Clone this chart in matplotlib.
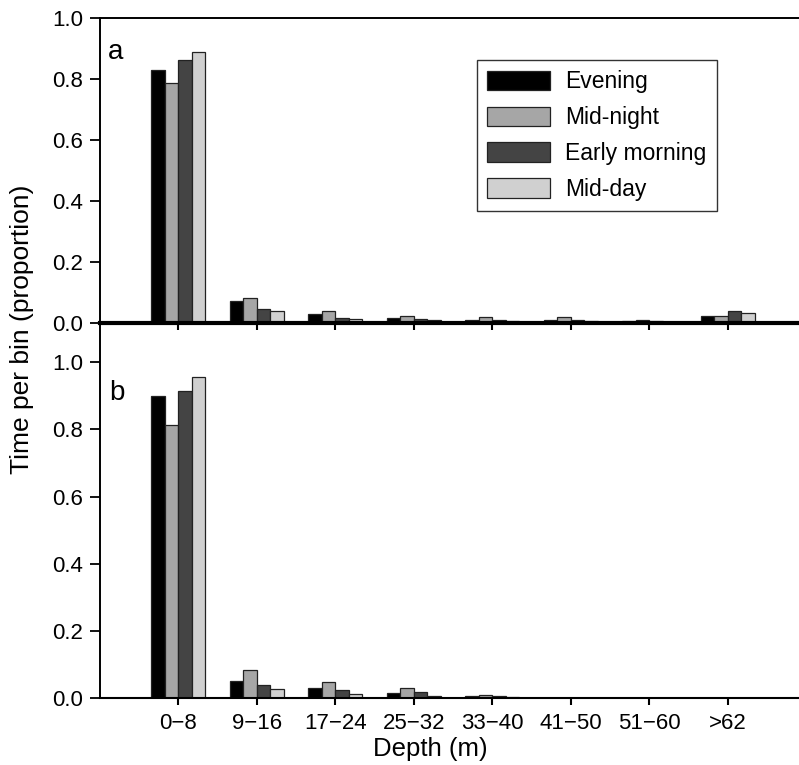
import numpy as np
import matplotlib.pyplot as plt

plt.rcParams['font.family'] = ['Liberation Sans', 'DejaVu Sans']

depth_bins = ['0\u22128', '9\u221216', '17\u221224', '25\u221232',
              '33\u221240', '41\u221250', '51\u221260', '>62']
periods = ['Evening', 'Mid-night', 'Early morning', 'Mid-day']
colors = ['#000000', '#a6a6a6', '#444444', '#d0d0d0']

# panel a, proportion of time per depth bin
a_evening = [0.829, 0.071, 0.028, 0.017, 0.010, 0.010, 0.008, 0.023]
a_midnight = [0.787, 0.082, 0.038, 0.024, 0.020, 0.019, 0.011, 0.023]
a_early = [0.863, 0.045, 0.017, 0.012, 0.010, 0.009, 0.007, 0.038]
a_midday = [0.890, 0.038, 0.014, 0.010, 0.005, 0.005, 0.003, 0.033]

# panel b
b_evening = [0.900, 0.052, 0.029, 0.015, 0.005, 0.0, 0.0, 0.0]
b_midnight = [0.812, 0.084, 0.049, 0.031, 0.008, 0.0, 0.0, 0.0]
b_early = [0.914, 0.038, 0.024, 0.017, 0.005, 0.0, 0.0, 0.0]
b_midday = [0.955, 0.028, 0.013, 0.005, 0.002, 0.0, 0.0, 0.0]

panel_a = [a_evening, a_midnight, a_early, a_midday]
panel_b = [b_evening, b_midnight, b_early, b_midday]

x = np.arange(len(depth_bins))
w = 0.172

fig = plt.figure(figsize=(7.99, 7.65), dpi=100)
ax_b = fig.add_axes([0.1252, 0.0876, 0.8748, 0.4902])
ax_a = fig.add_axes([0.1252, 0.5778, 0.8748, 0.3987])
ax_a.set_zorder(3)
ax_a.patch.set_alpha(0)

for ax, data, ymax in [(ax_a, panel_a, 1.0), (ax_b, panel_b, 1.117)]:
    for i, vals in enumerate(data):
        ax.bar(x + (i - 1.5) * w, vals, width=w, color=colors[i],
               edgecolor='#222222', linewidth=0.9, label=periods[i])
    ax.set_xlim(-1, 7.91)
    ax.set_ylim(0, ymax)
    ax.set_yticks([0, 0.2, 0.4, 0.6, 0.8, 1.0])
    ax.set_yticklabels(['0.0', '0.2', '0.4', '0.6', '0.8', '1.0'])
    ax.set_xticks(x)
    ax.spines['right'].set_visible(False)
    ax.spines['left'].set_linewidth(1.4)
    ax.tick_params(axis='y', direction='out', length=7, width=1.3, pad=5,
                   labelsize=16)
    ax.tick_params(axis='x', direction='out', length=5, width=1.5, pad=6,
                   labelsize=16)

ax_a.spines['top'].set_linewidth(1.4)
ax_a.spines['bottom'].set_linewidth(3)
ax_a.set_xticklabels([])
ax_b.spines['top'].set_visible(False)
ax_b.spines['bottom'].set_linewidth(1.5)
ax_b.set_xticklabels(depth_bins)

ax_a.text(0.011, 0.889, 'a', transform=ax_a.transAxes, fontsize=20,
          ha='left', va='center')
ax_b.text(0.013, 0.813, 'b', transform=ax_b.transAxes, fontsize=20,
          ha='left', va='center')

leg = ax_a.legend(loc='upper left', bbox_to_anchor=(0.539, 0.862),
                  fontsize=16.5, handlelength=2.75, handleheight=0.92,
                  labelspacing=0.56, handletextpad=0.65, borderpad=0.45,
                  borderaxespad=0, fancybox=False, framealpha=1,
                  edgecolor='#333333')
leg.get_frame().set_linewidth(1.0)

fig.text(0.028, 0.57, 'Time per bin (proportion)', rotation=90,
         fontsize=19, ha='center', va='center')
fig.text(0.538, 0.021, 'Depth (m)', fontsize=18.5, ha='center', va='center')

fig.savefig('out.png', dpi=100)
